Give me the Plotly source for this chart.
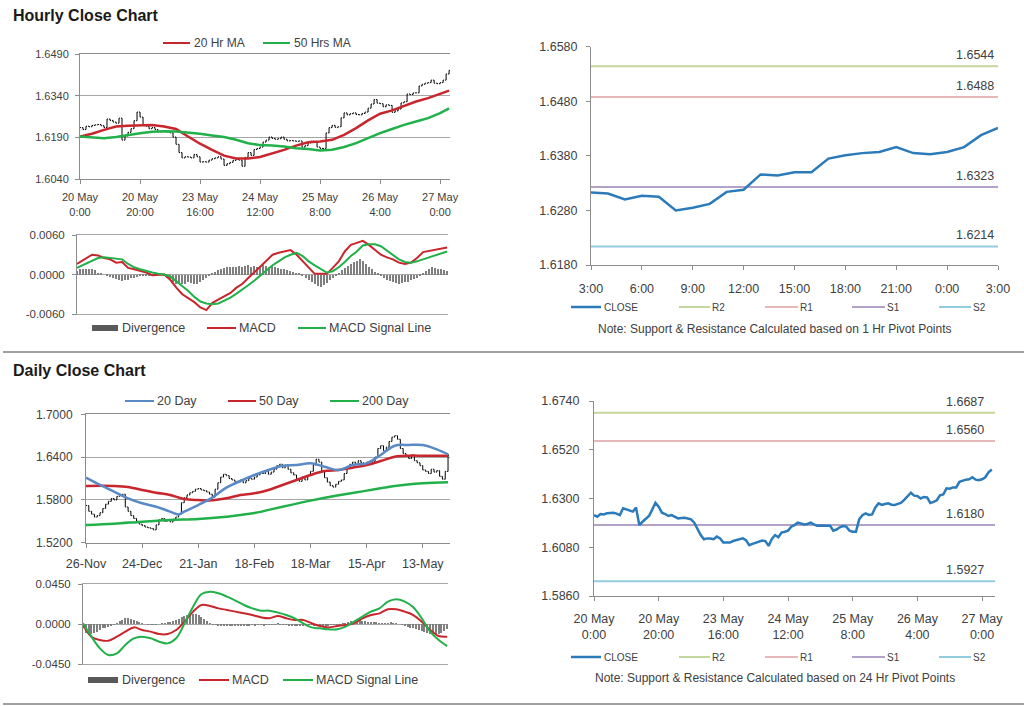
import plotly.graph_objects as go

W, H = 1024, 706
FONT = "Liberation Sans, Arial, sans-serif"
TXT = "#404040"
AX = "#8c8c8c"
GRID = "#a6a6a6"
RED = "#c8262c"
GREEN = "#22b04a"
BLUE20 = "#5a8ac6"
CLOSE_BLUE = "#2b7bba"
DIV_GRAY = "#7f7f7f"

# ---------------- data ----------------
hourly_tick_hours = [0, 20, 40, 60, 80, 100, 120]
hourly_tick_labels = ["20 May<br>0:00", "20 May<br>20:00", "23 May<br>16:00", "24 May<br>12:00",
                      "25 May<br>8:00", "26 May<br>4:00", "27 May<br>0:00"]

# hourly closes, 20 May 0:00 -> 27 May 3:00 (trading hours)
hourly_close = [
    1.6225, 1.6218, 1.6230, 1.6228, 1.6233, 1.6235, 1.6236, 1.6232, 1.6225, 1.6256,
    1.6251, 1.6245, 1.6241, 1.6259, 1.6180, 1.6195, 1.6208, 1.6221, 1.6250, 1.6281,
    1.6263, 1.6236, 1.6230, 1.6221, 1.6225, 1.6218, 1.6210, 1.6212, 1.6213, 1.6210,
    1.6206, 1.6191, 1.6165, 1.6135, 1.6116, 1.6120, 1.6119, 1.6116, 1.6128, 1.6120,
    1.6101, 1.6102, 1.6101, 1.6108, 1.6113, 1.6116, 1.6120, 1.6112, 1.6089, 1.6095,
    1.6100, 1.6107, 1.6110, 1.6108, 1.6086, 1.6118, 1.6135, 1.6125, 1.6146, 1.6150,
    1.6155, 1.6173, 1.6180, 1.6191, 1.6186, 1.6183, 1.6185, 1.6191, 1.6183, 1.6177,
    1.6178, 1.6177, 1.6176, 1.6177, 1.6155, 1.6160, 1.6170, 1.6176, 1.6173, 1.6155,
    1.6150, 1.6150, 1.6206, 1.6225, 1.6233, 1.6226, 1.6228, 1.6260, 1.6278, 1.6271,
    1.6275, 1.6278, 1.6272, 1.6271, 1.6276, 1.6281, 1.6295, 1.6310, 1.6326, 1.6313,
    1.6311, 1.6300, 1.6307, 1.6305, 1.6280, 1.6285, 1.6292, 1.6314, 1.6318, 1.6346,
    1.6344, 1.6350, 1.6350, 1.6375, 1.6381, 1.6385, 1.6387, 1.6396, 1.6385, 1.6383,
    1.6387, 1.6396, 1.6418, 1.6431,
]

ma_hours = [0, 4, 8, 12, 16, 20, 24, 28, 32, 36, 40, 44, 48, 52, 56, 60,
            64, 68, 72, 76, 80, 84, 88, 92, 96, 100, 104, 108, 112, 116, 120, 123]
ma20_hr = [1.6193, 1.6203, 1.6217, 1.6229, 1.6232, 1.6234, 1.6234, 1.6229, 1.6220, 1.6193,
           1.6167, 1.6145, 1.6124, 1.6114, 1.6114, 1.6119, 1.6131, 1.6145, 1.6160, 1.6172,
           1.6175, 1.6181, 1.6199, 1.6223, 1.6251, 1.6275, 1.6287, 1.6303, 1.6319, 1.6331,
           1.6345, 1.6358]
ma50_hr = [1.6193, 1.6190, 1.6187, 1.6191, 1.6199, 1.6205, 1.6210, 1.6212, 1.6211, 1.6208,
           1.6203, 1.6197, 1.6191, 1.6181, 1.6169, 1.6162, 1.6161, 1.6157, 1.6151, 1.6148,
           1.6143, 1.6145, 1.6155, 1.6169, 1.6187, 1.6205, 1.6220, 1.6235, 1.6247, 1.6259,
           1.6277, 1.6294]

macd_hours = [0, 3] + list(range(5, 124, 2))
macd_hr = [0.0016, 0.0025, 0.0030, 0.0029, 0.0025, 0.0023, 0.0018, 0.0019, 0.0010, 0.0008,
           0.0006, 0.0003, -0.0001, 0.0000, 0.0000, -0.0008, -0.0020, -0.0030, -0.0036, -0.0042,
           -0.0050, -0.0054, -0.0043, -0.0038, -0.0033, -0.0028, -0.0020, -0.0014, -0.0005, 0.0004,
           0.0013, 0.0021, 0.0030, 0.0033, 0.0035, 0.0037, 0.0030, 0.0020, 0.0010, 0.0001,
           0.0001, 0.0001, 0.0010, 0.0020, 0.0035, 0.0045, 0.0048, 0.0051, 0.0045, 0.0038,
           0.0030, 0.0026, 0.0023, 0.0018, 0.0016, 0.0018, 0.0025, 0.0034, 0.0036, 0.0038,
           0.0039, 0.0041]
signal_hr = [0.0010, 0.0016, 0.0021, 0.0025, 0.0026, 0.0025, 0.0024, 0.0023, 0.0016, 0.0011,
             0.0008, 0.0005, 0.0003, 0.0001, 0.0000, -0.0003, -0.0010, -0.0018, -0.0025, -0.0034,
             -0.0041, -0.0044, -0.0045, -0.0044, -0.0040, -0.0035, -0.0029, -0.0023, -0.0016, -0.0009,
             -0.0001, 0.0006, 0.0014, 0.0020, 0.0026, 0.0030, 0.0033, 0.0028, 0.0020, 0.0014,
             0.0008, 0.0003, 0.0005, 0.0011, 0.0019, 0.0028, 0.0035, 0.0044, 0.0046, 0.0046,
             0.0043, 0.0036, 0.0029, 0.0023, 0.0019, 0.0018, 0.0020, 0.0023, 0.0025, 0.0028,
             0.0031, 0.0035]
divergence_hr = [
    0.0006, 0.0008, 0.0009, 0.0008, 0.0009, 0.0008, 0.0007, 0.0003, 0.0002, 0.0000,
    -0.0001, -0.0004, -0.0006, -0.0007, -0.0009, -0.0010, -0.0009, -0.0008, -0.0006, -0.0005,
    -0.0004, -0.0003, -0.0003, -0.0002, -0.0002, -0.0001, 0.0000, 0.0000, 0.0000, -0.0002,
    -0.0005, -0.0008, -0.0011, -0.0014, -0.0013, -0.0015, -0.0014, -0.0012, -0.0013, -0.0015,
    -0.0014, -0.0011, -0.0008, -0.0005, -0.0002, 0.0001, 0.0004, 0.0007, 0.0009, 0.0010,
    0.0011, 0.0012, 0.0011, 0.0012, 0.0013, 0.0012, 0.0013, 0.0014, 0.0012, 0.0013,
    0.0012, 0.0013, 0.0014, 0.0013, 0.0012, 0.0013, 0.0011, 0.0010, 0.0009, 0.0008,
    0.0007, 0.0005, 0.0004, 0.0002, 0.0001, -0.0003, -0.0006, -0.0009, -0.0012, -0.0015,
    -0.0018, -0.0019, -0.0016, -0.0013, -0.0009, -0.0005, -0.0001, 0.0003, 0.0007, 0.0010,
    0.0013, 0.0016, 0.0019, 0.0021, 0.0023, 0.0020, 0.0016, 0.0012, 0.0008, 0.0004,
    0.0001, -0.0002, -0.0005, -0.0008, -0.0010, -0.0012, -0.0013, -0.0014, -0.0013, -0.0012,
    -0.0011, -0.0009, -0.0007, -0.0005, -0.0002, 0.0002, 0.0006, 0.0009, 0.0011, 0.0010,
    0.0009, 0.0008, 0.0007, 0.0006,
]

pivot_names = ["R2", "R1", "S1", "S2"]
pivot_colors = ["#c3d69b", "#e6b9b8", "#b3a2c7", "#93cddd"]
pivot_1hr = [1.6544, 1.6488, 1.6323, 1.6214]
pivot_24hr = [1.6687, 1.6560, 1.6180, 1.5927]
last_day_hour_labels = ["3:00", "6:00", "9:00", "12:00", "15:00", "18:00", "21:00", "0:00", "3:00"]
last_day_start_hour = 99  # 26 May 3:00

daily_tick_days = [0, 20, 40, 60, 80, 100, 120]
daily_tick_labels = ["26-Nov", "24-Dec", "21-Jan", "18-Feb", "18-Mar", "15-Apr", "13-May"]
daily_close = [
    1.5720, 1.5640, 1.5600, 1.5560, 1.5580, 1.5620, 1.5680, 1.5740, 1.5780, 1.5820,
    1.5800, 1.5850, 1.5860, 1.5880, 1.5700, 1.5640, 1.5580, 1.5540, 1.5500, 1.5460,
    1.5440, 1.5420, 1.5410, 1.5400, 1.5380, 1.5450, 1.5520, 1.5540, 1.5500, 1.5520,
    1.5490, 1.5530, 1.5560, 1.5600, 1.5760, 1.5830, 1.5870, 1.5900, 1.5920, 1.5950,
    1.5960, 1.5940, 1.5930, 1.5910, 1.5880, 1.5840, 1.5950, 1.6040, 1.6120, 1.6160,
    1.6140, 1.6100, 1.6080, 1.6060, 1.6050, 1.6080, 1.6040, 1.6070, 1.6100, 1.6090,
    1.6120, 1.6150, 1.6180, 1.6170, 1.6200, 1.6160, 1.6190, 1.6230, 1.6280, 1.6300,
    1.6250, 1.6290, 1.6230, 1.6180, 1.6150, 1.6100, 1.6060, 1.6120, 1.6080, 1.6140,
    1.6200, 1.6290, 1.6370, 1.6330, 1.6200, 1.6110, 1.6050, 1.6000, 1.5980, 1.6020,
    1.6060, 1.6080, 1.6170, 1.6250, 1.6300, 1.6330, 1.6300, 1.6350, 1.6320, 1.6280,
    1.6330, 1.6300, 1.6340, 1.6400, 1.6520, 1.6560, 1.6490, 1.6540, 1.6620, 1.6680,
    1.6700, 1.6650, 1.6520, 1.6450, 1.6420, 1.6380, 1.6430, 1.6350, 1.6320, 1.6280,
    1.6220, 1.6200, 1.6170, 1.6230, 1.6190, 1.6210, 1.6130, 1.6090, 1.6200, 1.6430,
]
ma20_days = [0, 5, 10, 15, 20, 25, 30, 33, 35, 40, 45, 50, 55, 60, 65, 70, 75, 80, 85, 90,
             95, 100, 105, 110, 115, 120, 125, 129]
ma20_day = [1.6112, 1.6009, 1.5915, 1.5822, 1.5752, 1.5705, 1.5635, 1.5597, 1.5635, 1.5728,
            1.5831, 1.5971, 1.6065, 1.6149, 1.6219, 1.6280, 1.6289, 1.6313, 1.6266, 1.6219,
            1.6289, 1.6313, 1.6430, 1.6560, 1.6570, 1.6570, 1.6509, 1.6439]
ma50_days = [0, 10, 15, 20, 25, 30, 35, 40, 45, 50, 55, 60, 65, 70, 75, 80, 85, 90, 95, 100,
             105, 110, 115, 120, 125, 129]
ma50_day = [1.5995, 1.5995, 1.5981, 1.5939, 1.5901, 1.5869, 1.5812, 1.5798, 1.5794, 1.5822,
            1.5869, 1.5892, 1.5939, 1.6009, 1.6079, 1.6149, 1.6205, 1.6219, 1.6252, 1.6289,
            1.6345, 1.6406, 1.6420, 1.6420, 1.6420, 1.6420]
ma200_days = [0, 10, 20, 30, 40, 50, 60, 70, 80, 90, 100, 110, 120, 129]
ma200_day = [1.5448, 1.5466, 1.5495, 1.5518, 1.5532, 1.5565, 1.5615, 1.5705, 1.5790, 1.5865,
             1.5930, 1.5995, 1.6032, 1.6046]

macd_days = list(range(0, 130, 3))
macd_d = [-0.0011, -0.0143, -0.0180, -0.0188, -0.0143, -0.0086, -0.0038, -0.0068, -0.0086, -0.0113,
          -0.0113, -0.0068, 0.0026, 0.0139, 0.0214, 0.0203, 0.0176, 0.0158, 0.0139, 0.0120,
          0.0101, 0.0075, 0.0064, 0.0090, 0.0064, 0.0045, 0.0045, 0.0008, -0.0023, -0.0038,
          -0.0023, -0.0011, 0.0008, 0.0064, 0.0101, 0.0120, 0.0165, 0.0165, 0.0139, 0.0101,
          0.0026, -0.0068, -0.0135, -0.0143]
signal_d = [0.0008, -0.0143, -0.0274, -0.0349, -0.0330, -0.0236, -0.0161, -0.0143, -0.0161, -0.0199,
            -0.0218, -0.0161, 0.0008, 0.0195, 0.0338, 0.0364, 0.0345, 0.0308, 0.0263, 0.0214,
            0.0176, 0.0150, 0.0150, 0.0128, 0.0101, 0.0064, 0.0008, -0.0038, -0.0049, -0.0060,
            -0.0060, -0.0030, 0.0026, 0.0083, 0.0139, 0.0176, 0.0251, 0.0278, 0.0251, 0.0188,
            0.0064, -0.0086, -0.0180, -0.0248]
divergence_d = [
    -0.0040, -0.0100, -0.0120, -0.0110, -0.0100, -0.0090, -0.0070, -0.0050, -0.0040, -0.0030,
    -0.0020, -0.0010, 0.0010, 0.0030, 0.0050, 0.0070, 0.0070, 0.0060, 0.0040, 0.0030,
    0.0020, 0.0010, 0.0000, -0.0010, -0.0010, -0.0010, -0.0005, 0.0000, 0.0005, 0.0010,
    0.0015, 0.0020, 0.0030, 0.0040, 0.0060, 0.0080, 0.0090, 0.0100, 0.0110, 0.0110,
    0.0110, 0.0100, 0.0080, 0.0060, 0.0030, 0.0010, -0.0005, -0.0010, -0.0015, -0.0015,
    -0.0020, -0.0015, -0.0020, -0.0015, -0.0020, -0.0020, -0.0015, -0.0020, -0.0015, -0.0015,
    -0.0010, -0.0015, -0.0010, -0.0010, -0.0015, -0.0010, -0.0005, -0.0010, -0.0005, 0.0005,
    -0.0005, -0.0010, -0.0010, -0.0015, -0.0020, -0.0025, -0.0020, -0.0025, -0.0020, -0.0015,
    -0.0010, -0.0010, -0.0015, -0.0020, -0.0020, -0.0025, -0.0020, -0.0015, -0.0010, -0.0010,
    -0.0005, -0.0005, 0.0005, 0.0010, 0.0020, 0.0030, 0.0035, 0.0040, 0.0040, 0.0035,
    0.0030, 0.0025, 0.0020, 0.0020, 0.0015, 0.0010, 0.0010, 0.0005, 0.0010, 0.0015,
    0.0010, 0.0005, 0.0000, -0.0010, -0.0020, -0.0030, -0.0040, -0.0050, -0.0060, -0.0070,
    -0.0080, -0.0090, -0.0100, -0.0110, -0.0120, -0.0120, -0.0110, -0.0100, -0.0080, -0.0060,
]

# ---------------- helpers ----------------
def px(x):
    return x / W


def py(y):
    return 1 - y / H


def xdom(a, b):
    return [px(a), px(b)]


def ydom(top, bottom):
    return [py(bottom), py(top)]


def fmt4(v):
    return ("-" if v < 0 else "") + "%.4f" % abs(v)


def bars(closes):
    opens = [closes[0]] + closes[:-1]
    highs = [max(o, c) for o, c in zip(opens, closes)]
    lows = [min(o, c) for o, c in zip(opens, closes)]
    return opens, highs, lows


fig = go.Figure()

# ---- panel 1 : hourly bars + MAs ----
o, hi, lo = bars(hourly_close)
n_h = len(hourly_close)
fig.add_trace(go.Ohlc(x=list(range(n_h)), open=o, high=hi, low=lo, close=hourly_close,
                      increasing_line_color="black", decreasing_line_color="black",
                      line_width=1, tickwidth=0.35, xaxis="x", yaxis="y", showlegend=False,
                      hoverinfo="skip"))
fig.add_trace(go.Scatter(x=ma_hours, y=ma20_hr, mode="lines", line=dict(color=RED, width=2.5),
                         xaxis="x", yaxis="y", showlegend=False))
fig.add_trace(go.Scatter(x=ma_hours, y=ma50_hr, mode="lines", line=dict(color=GREEN, width=2.5),
                         xaxis="x", yaxis="y", showlegend=False))

# ---- panel 2 : hourly MACD ----
fig.add_trace(go.Bar(x=list(range(len(divergence_hr))), y=divergence_hr, marker_color=DIV_GRAY,
                     marker_line_width=0, width=0.45, xaxis="x2", yaxis="y2", showlegend=False))
fig.add_trace(go.Scatter(x=macd_hours, y=macd_hr, mode="lines", line=dict(color=RED, width=2),
                         xaxis="x2", yaxis="y2", showlegend=False))
fig.add_trace(go.Scatter(x=macd_hours, y=signal_hr, mode="lines", line=dict(color=GREEN, width=2),
                         xaxis="x2", yaxis="y2", showlegend=False))

# ---- panel 3 : last 24h close with 1hr pivots ----
last_day = hourly_close[last_day_start_hour:]
n_l = len(last_day)
for name, col, lvl in zip(pivot_names, pivot_colors, pivot_1hr):
    fig.add_trace(go.Scatter(x=[0, n_l - 1], y=[lvl, lvl], mode="lines", line=dict(color=col, width=2),
                             xaxis="x3", yaxis="y3", showlegend=False))
fig.add_trace(go.Scatter(x=list(range(n_l)), y=last_day, mode="lines",
                         line=dict(color=CLOSE_BLUE, width=2.5), xaxis="x3", yaxis="y3",
                         showlegend=False))

# ---- panel 4 : daily bars + MAs ----
o, hi, lo = bars(daily_close)
n_d = len(daily_close)
fig.add_trace(go.Ohlc(x=list(range(n_d)), open=o, high=hi, low=lo, close=daily_close,
                      increasing_line_color="black", decreasing_line_color="black",
                      line_width=1, tickwidth=0.35, xaxis="x4", yaxis="y4", showlegend=False,
                      hoverinfo="skip"))
fig.add_trace(go.Scatter(x=ma200_days, y=ma200_day, mode="lines", line=dict(color=GREEN, width=2.5, shape="spline"),
                         xaxis="x4", yaxis="y4", showlegend=False))
fig.add_trace(go.Scatter(x=ma50_days, y=ma50_day, mode="lines", line=dict(color=RED, width=2.5, shape="spline"),
                         xaxis="x4", yaxis="y4", showlegend=False))
fig.add_trace(go.Scatter(x=ma20_days, y=ma20_day, mode="lines", line=dict(color=BLUE20, width=2.5, shape="spline"),
                         xaxis="x4", yaxis="y4", showlegend=False))

# ---- panel 5 : daily MACD ----
fig.add_trace(go.Bar(x=list(range(len(divergence_d))), y=divergence_d, marker_color=DIV_GRAY,
                     marker_line_width=0, width=0.45, xaxis="x5", yaxis="y5", showlegend=False))
fig.add_trace(go.Scatter(x=macd_days, y=macd_d, mode="lines", line=dict(color=RED, width=2, shape="spline"),
                         xaxis="x5", yaxis="y5", showlegend=False))
fig.add_trace(go.Scatter(x=macd_days, y=signal_d, mode="lines", line=dict(color=GREEN, width=2, shape="spline"),
                         xaxis="x5", yaxis="y5", showlegend=False))

# ---- panel 6 : hourly close with 24hr pivots ----
for name, col, lvl in zip(pivot_names, pivot_colors, pivot_24hr):
    fig.add_trace(go.Scatter(x=[0, 124], y=[lvl, lvl], mode="lines", line=dict(color=col, width=2),
                             xaxis="x6", yaxis="y6", showlegend=False))
fig.add_trace(go.Scatter(x=list(range(n_h)), y=hourly_close, mode="lines",
                         line=dict(color=CLOSE_BLUE, width=2.5), xaxis="x6", yaxis="y6",
                         showlegend=False))


# ---------------- axes ----------------
def xaxis(dom, anchor, rng, tickvals=None, ticktext=None, size=11, line=True, mirror=False, standoff=0):
    d = dict(domain=dom, anchor=anchor, range=rng, showgrid=False, zeroline=False,
             showline=line, linecolor=AX, linewidth=1, fixedrange=True, mirror=mirror,
             tickfont=dict(family=FONT, size=size, color=TXT))
    if tickvals is not None:
        d.update(tickmode="array", tickvals=tickvals, ticktext=ticktext, ticks="outside",
                 ticklen=4, tickcolor=AX, ticklabelstandoff=standoff)
    else:
        d.update(showticklabels=False, ticks="")
    return d


def yaxis(dom, anchor, rng, tickvals, grid=True, size=11, standoff=0):
    return dict(domain=dom, anchor=anchor, range=rng, tickmode="array", tickvals=tickvals,
                ticktext=[fmt4(v) for v in tickvals], showgrid=grid, gridcolor=GRID, gridwidth=1,
                zeroline=False, showline=True, linecolor=AX, linewidth=1, ticks="outside",
                ticklen=4, tickcolor=AX, fixedrange=True, ticklabelstandoff=standoff,
                tickfont=dict(family=FONT, size=size, color=TXT))


layout_axes = dict(
    xaxis=xaxis(xdom(80, 450), "y", [0, 123.3], hourly_tick_hours, hourly_tick_labels, 11,
                mirror=True, standoff=4),
    yaxis=yaxis(ydom(54, 179), "x", [1.6040, 1.6490], [1.6040, 1.6190, 1.6340, 1.6490], standoff=4),
    xaxis2=xaxis(xdom(77, 448), "y2", [0, 123.3], line=True, mirror=True),
    yaxis2=yaxis(ydom(235, 314), "x2", [-0.006, 0.006], [-0.006, 0.0, 0.006], size=11.5, standoff=5),
    xaxis3=xaxis(xdom(591, 998), "y3", [0, 24], list(range(0, 25, 3)), last_day_hour_labels, 12.5,
                 standoff=8),
    yaxis3=yaxis(ydom(46.7, 265), "x3", [1.6180, 1.6580], [1.6180, 1.6280, 1.6380, 1.6480, 1.6580],
                 grid=False, size=12.5, standoff=6),
    xaxis4=xaxis(xdom(86, 450), "y4", [0, 129.7], daily_tick_days, daily_tick_labels, 12.5,
                 mirror=True, standoff=5),
    yaxis4=yaxis(ydom(414.3, 542.7), "x4", [1.52, 1.70], [1.52, 1.58, 1.64, 1.70], size=12, standoff=6),
    xaxis5=xaxis(xdom(83, 448), "y5", [0, 129.3], line=True, mirror=True),
    yaxis5=yaxis(ydom(584, 664), "x5", [-0.045, 0.045], [-0.045, 0.0, 0.045], size=11.5, standoff=5),
    xaxis6=xaxis(xdom(594, 995), "y6", [0, 124], hourly_tick_hours, hourly_tick_labels, 12.5,
                 standoff=7),
    yaxis6=yaxis(ydom(401, 596), "x6", [1.5860, 1.6740], [1.5860, 1.6080, 1.6300, 1.6520, 1.6740],
                 grid=False, size=12.5, standoff=7),
)
for k in ("xaxis2", "xaxis5"):
    layout_axes[k]["linecolor"] = GRID
layout_axes["xaxis"]["rangeslider"] = dict(visible=False)
layout_axes["xaxis4"]["rangeslider"] = dict(visible=False)

shapes = []
annotations = []


def hline(x0, x1, y, color, width=2):
    shapes.append(dict(type="line", xref="paper", yref="paper", x0=px(x0), x1=px(x1),
                       y0=py(y), y1=py(y), line=dict(color=color, width=width)))


def text(x, y, s, size=12, anchor="left", color=TXT):
    annotations.append(dict(xref="paper", yref="paper", x=px(x), y=py(y), text=s, showarrow=False,
                            xanchor=anchor, yanchor="middle",
                            font=dict(family=FONT, size=size, color=color)))


# titles
text(11, 16, "<b>Hourly Close Chart</b>", 16, color="#1a1a1a")
text(11, 370, "<b>Daily Close Chart</b>", 16, color="#1a1a1a")

# separators
hline(3, 1024, 352, "#a0a0a0", 2)
hline(3, 1024, 704, "#a0a0a0", 2)

# panel 1 legend
hline(163, 190, 43, RED)
text(192, 43, "20 Hr MA", 12)
hline(263, 290, 43, GREEN)
text(292, 43, "50 Hrs MA", 12)

# panel 2 legend
shapes.append(dict(type="rect", xref="paper", yref="paper", x0=px(92), x1=px(118), y0=py(331),
                   y1=py(325), fillcolor="#595959", line=dict(width=0)))
text(120, 328, "Divergence", 12.5)
hline(207, 236, 328, RED)
text(237, 328, "MACD", 12.5)
hline(298, 326, 328, GREEN)
text(327, 328, "MACD Signal Line", 12.5)

# panel 4 legend
hline(125, 154, 401, BLUE20)
text(155, 401, "20 Day", 12.5)
hline(228, 256, 401, RED)
text(257, 401, "50 Day", 12.5)
hline(330, 359, 401, GREEN)
text(360, 401, "200 Day", 12.5)

# panel 5 legend
shapes.append(dict(type="rect", xref="paper", yref="paper", x0=px(88), x1=px(118), y0=py(683),
                   y1=py(677), fillcolor="#595959", line=dict(width=0)))
text(120, 680, "Divergence", 12.5)
hline(199, 229, 680, RED)
text(230, 680, "MACD", 12.5)
hline(283, 313, 680, GREEN)
text(314, 680, "MACD Signal Line", 12.5)


# pivot chart legends + notes
def pivot_legend(y, note_y, hours):
    hline(571, 601, y, CLOSE_BLUE, 2.5)
    text(602, y, "CLOSE", 10)
    xs = [(679, 710), (765, 798), (852, 885), (939, 971)]
    for (a, b), name, col in zip(xs, pivot_names, pivot_colors):
        hline(a, b, y, col, 2)
        text(b, y, name, 10)
    text(775, note_y, "Note: Support & Resistance Calculated based on %s Hr Pivot Points" % hours,
         12, anchor="center")


pivot_legend(307, 329, 1)
pivot_legend(657, 678, 24)

# pivot value labels
for lvl in pivot_1hr:
    annotations.append(dict(xref="x3", yref="y3", x=24, y=lvl, text=fmt4(lvl), showarrow=False,
                            xanchor="right", yanchor="bottom", xshift=-2, yshift=2,
                            font=dict(family=FONT, size=12.5, color=TXT)))
for lvl in pivot_24hr:
    annotations.append(dict(xref="x6", yref="y6", x=124, y=lvl, text=fmt4(lvl), showarrow=False,
                            xanchor="right", yanchor="bottom", xshift=-9, yshift=2,
                            font=dict(family=FONT, size=12.5, color=TXT)))

fig.update_layout(
    width=W, height=H, margin=dict(l=0, r=0, t=0, b=0, autoexpand=False),
    paper_bgcolor="white", plot_bgcolor="rgba(0,0,0,0)", showlegend=False,
    font=dict(family=FONT, color=TXT), bargap=0, barmode="overlay",
    shapes=shapes, annotations=annotations, **layout_axes,
)

fig.write_html("out.html", config={"displayModeBar": False},
               post_script="document.body.style.margin='0px';document.body.style.overflow='hidden';")
